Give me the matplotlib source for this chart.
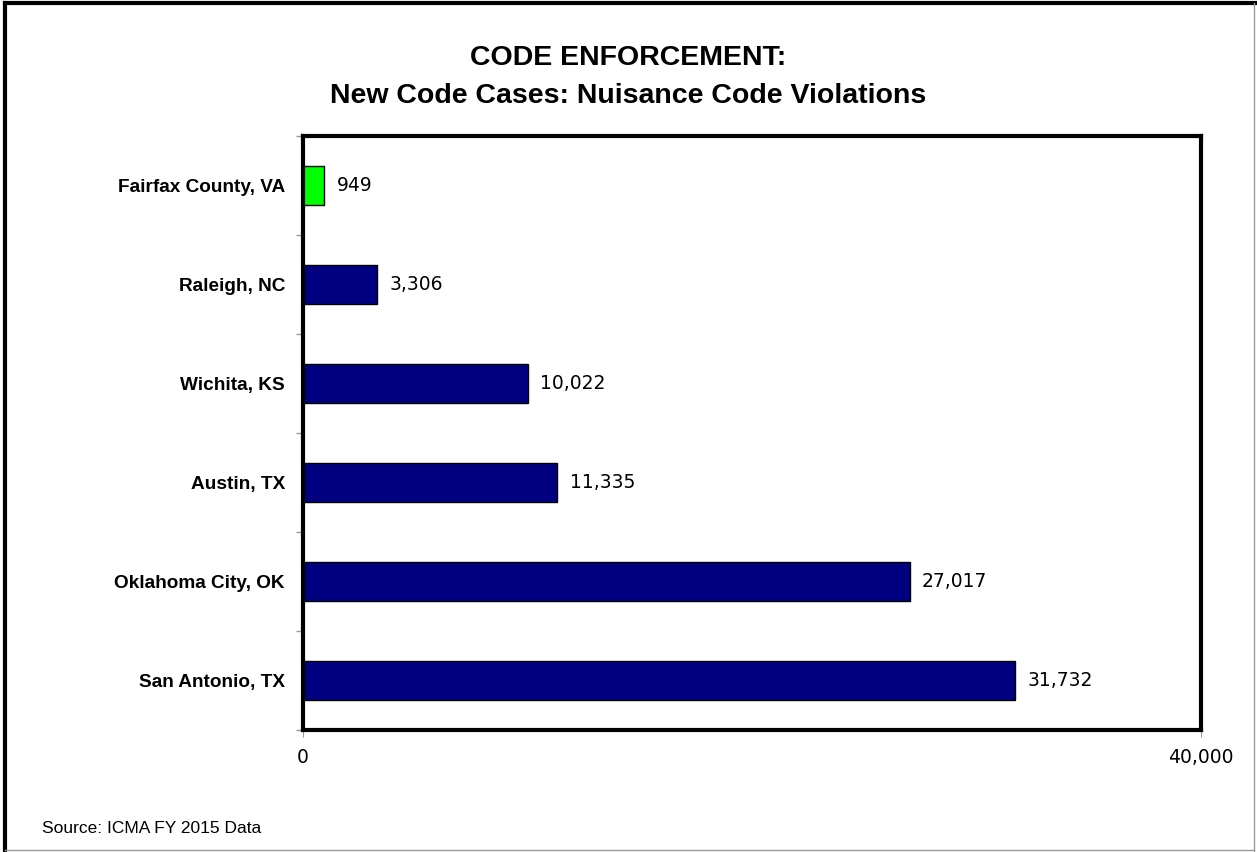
import numpy as np
import matplotlib.pyplot as plt
from matplotlib.lines import Line2D

# data
cities = ["Fairfax County, VA", "Raleigh, NC", "Wichita, KS", "Austin, TX",
          "Oklahoma City, OK", "San Antonio, TX"]
cases = [949, 3306, 10022, 11335, 27017, 31732]
colors = ["#00FF00", "#000080", "#000080", "#000080", "#000080", "#000080"]
xticks = [0, 40000]
xtick_labels = ["0", "40,000"]

fig = plt.figure(figsize=(12.57, 8.52), dpi=100)
ax = fig.add_axes([0.241, 0.1432, 0.7145, 0.6972])

y = np.arange(len(cities))
ax.barh(y, cases, height=0.4, color=colors, edgecolor="black", linewidth=1)

for yi, v in zip(y, cases):
    ax.annotate(f"{v:,}", (v, yi), xytext=(9, 0), textcoords="offset points",
                va="center", ha="left", fontsize=13.5, family="DejaVu Sans")

ax.set_xlim(0, 40000)
ax.set_ylim(len(cities) - 0.5, -0.5)

ax.set_xticks(xticks)
ax.set_xticklabels(xtick_labels, fontsize=13.5, family="DejaVu Sans")
ax.set_yticks(y)
ax.set_yticklabels(cities, fontsize=13.7, family="Liberation Sans",
                   fontweight="bold")
ax.tick_params(axis="y", length=0, pad=13)
ax.tick_params(axis="x", length=5, color="#999999", pad=8)
# small ticks between categories
ax.set_yticks(np.arange(-0.5, len(cities), 1), minor=True)
ax.tick_params(axis="y", which="minor", length=5, color="#999999", width=1)

for s in ax.spines.values():
    s.set_linewidth(3)
    s.set_color("black")

fig.text(0.5, 0.9237, "CODE ENFORCEMENT:", ha="center", va="baseline",
         fontsize=20.5, family="Liberation Sans", fontweight="bold")
fig.text(0.5, 0.8791, "New Code Cases: Nuisance Code Violations", ha="center",
         va="baseline", fontsize=20.5, family="Liberation Sans",
         fontweight="bold")

fig.text(0.0334, 0.0223, "Source: ICMA FY 2015 Data", ha="left",
         va="baseline", fontsize=12.5, family="Liberation Sans")

# outer frame
fig.add_artist(Line2D([0.004, 0.004], [0.0, 0.996], color="black", lw=3))
fig.add_artist(Line2D([0.004, 0.999], [0.996, 0.996], color="black", lw=3))
fig.add_artist(Line2D([0.998, 0.998], [0.0, 0.996], color="#999999", lw=1))
fig.add_artist(Line2D([0.004, 0.998], [0.002, 0.002], color="#999999", lw=1))

fig.savefig("out.png", dpi=100)
